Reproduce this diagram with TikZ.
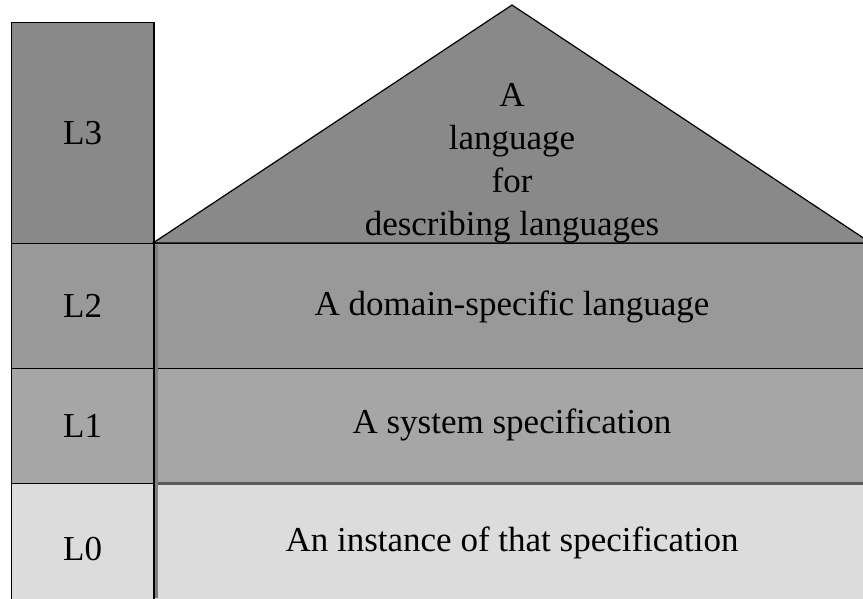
\documentclass[tikz,border=0pt]{standalone}
\usepackage{fontspec}
\setmainfont{Liberation Serif}
\definecolor{metagray}{HTML}{898989}
\definecolor{dslgray}{HTML}{999999}
\definecolor{specgray}{HTML}{A6A6A6}
\definecolor{instgray}{HTML}{DCDCDC}
\definecolor{edgegray}{HTML}{7F7F7F}
\tikzset{
  layer/.style={draw=black, line width=1.2pt, rectangle, anchor=north west, inner sep=0pt,
    font=\fontsize{35}{43}\selectfont},
  levelbox/.style={layer, minimum width=142pt},
  rowbox/.style={layer, minimum width=720pt}
}
\begin{document}
\begin{tikzpicture}[x=1pt, y=-1pt]
    \useasboundingbox (0,0) rectangle (863,598);
    \clip (0,0) rectangle (863,598);

    % Rows
    \node[rowbox, fill=dslgray, minimum height=125pt] (dsl) at (153,243) {};
    \node[rowbox, fill=specgray, minimum height=115pt] (spec) at (153,368) {};
    \node[rowbox, fill=instgray, minimum height=130pt] (inst) at (153,483) {};
    \draw[line width=2.4pt, black!65] ([yshift=-0.6pt]inst.north west) -- ([yshift=-0.6pt]inst.north east);
    \fill[edgegray] (154.5,245) rectangle (158,598);

    % Level column
    \node[levelbox, fill=metagray, minimum height=221pt] (l3) at (11,22) {L3};
    \node[levelbox, fill=dslgray, minimum height=125pt] (l2) at (11,243) {L2};
    \node[levelbox, fill=specgray, minimum height=115pt] (l1) at (11,368) {L1};
    \node[levelbox, fill=instgray, minimum height=130pt] (l0) at (11,483) {L0};
    \draw[line width=1.6pt] (l3.north east) -- (l0.south east);

    % Roof of the house
    \draw[line width=1.2pt, fill=metagray] (153,243) -- (512,5) -- (871,243) -- cycle;
    \node[align=center, font=\fontsize{35}{43}\selectfont] (meta) at (512,163)
        {A\\language\\for\\describing languages};

    % Row texts
    \node[font=\fontsize{35}{43}\selectfont] at (512,307) {A domain-specific language};
    \node[font=\fontsize{35}{43}\selectfont] at (512,425) {A system specification};
    \node[font=\fontsize{35}{43}\selectfont] at (512,543) {An instance of that specification};
\end{tikzpicture}
\end{document}
